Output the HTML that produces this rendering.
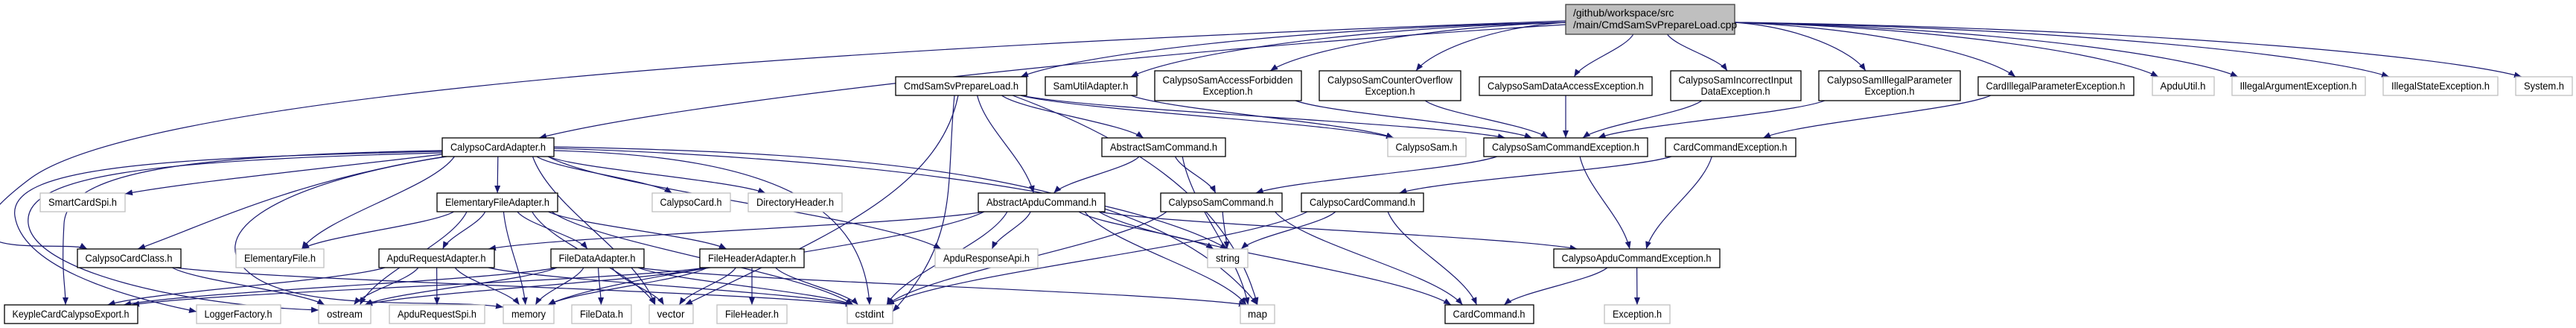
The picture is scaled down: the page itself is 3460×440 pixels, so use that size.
<!DOCTYPE html>
<html><head><meta charset="utf-8"><style>
html,body{margin:0;padding:0;background:#fff;}
svg{display:block;}
text{font-family:"Liberation Sans",sans-serif;font-size:14px;fill:#000;}
.b{fill:#fff;stroke:#000;stroke-width:1.3;}
.g{fill:#fff;stroke:#bfbfbf;stroke-width:1.3;}
.m{fill:#bfbfbf;stroke:#404040;stroke-width:1.3;}
</style></head><body>
<svg id="s" width="3460" height="440" xmlns="http://www.w3.org/2000/svg">
<defs><marker id="ar" viewBox="0 0 10 8" refX="10" refY="4" markerWidth="10" markerHeight="8" markerUnits="userSpaceOnUse" orient="auto"><path d="M0,0L10,4L0,8z" fill="#191970"/></marker></defs>
<g id="edges" fill="none" stroke="#191970" stroke-width="1.2"></g>
<g>
<rect class="m" x="2103" y="6" width="227" height="40"/>
<text x="2113" y="22">/github/workspace/src</text>
<text x="2113" y="38">/main/CmdSamSvPrepareLoad.cpp</text>

<rect class="b" x="1203" y="103" width="176" height="25"/><text x="1291" y="120" text-anchor="middle" textLength="154" lengthAdjust="spacingAndGlyphs">CmdSamSvPrepareLoad.h</text>
<rect class="b" x="1404" y="103" width="123" height="25"/><text x="1465" y="120" text-anchor="middle" textLength="101" lengthAdjust="spacingAndGlyphs">SamUtilAdapter.h</text>
<rect class="b" x="1551" y="95" width="197" height="40"/><text x="1649" y="112" text-anchor="middle" textLength="175" lengthAdjust="spacingAndGlyphs">CalypsoSamAccessForbidden</text><text x="1649" y="127" text-anchor="middle" textLength="67" lengthAdjust="spacingAndGlyphs">Exception.h</text>
<rect class="b" x="1772" y="95" width="190" height="40"/><text x="1867" y="112" text-anchor="middle" textLength="168" lengthAdjust="spacingAndGlyphs">CalypsoSamCounterOverflow</text><text x="1867" y="127" text-anchor="middle" textLength="67" lengthAdjust="spacingAndGlyphs">Exception.h</text>
<rect class="b" x="1987" y="103" width="232" height="25"/><text x="2103" y="120" text-anchor="middle" textLength="210" lengthAdjust="spacingAndGlyphs">CalypsoSamDataAccessException.h</text>
<rect class="b" x="2244" y="95" width="175" height="40"/><text x="2331" y="112" text-anchor="middle" textLength="153" lengthAdjust="spacingAndGlyphs">CalypsoSamIncorrectInput</text><text x="2331" y="127" text-anchor="middle" textLength="93" lengthAdjust="spacingAndGlyphs">DataException.h</text>
<rect class="b" x="2443" y="95" width="190" height="40"/><text x="2538" y="112" text-anchor="middle" textLength="168" lengthAdjust="spacingAndGlyphs">CalypsoSamIllegalParameter</text><text x="2538" y="127" text-anchor="middle" textLength="67" lengthAdjust="spacingAndGlyphs">Exception.h</text>
<rect class="b" x="2657" y="103" width="209" height="25"/><text x="2761" y="120" text-anchor="middle" textLength="187" lengthAdjust="spacingAndGlyphs">CardIllegalParameterException.h</text>
<rect class="g" x="2891" y="103" width="83" height="25"/><text x="2932" y="120" text-anchor="middle" textLength="61" lengthAdjust="spacingAndGlyphs">ApduUtil.h</text>
<rect class="g" x="2998" y="103" width="179" height="25"/><text x="3087" y="120" text-anchor="middle" textLength="157" lengthAdjust="spacingAndGlyphs">IllegalArgumentException.h</text>
<rect class="g" x="3201" y="103" width="154" height="25"/><text x="3278" y="120" text-anchor="middle" textLength="132" lengthAdjust="spacingAndGlyphs">IllegalStateException.h</text>
<rect class="g" x="3379" y="103" width="76" height="25"/><text x="3417" y="120" text-anchor="middle" textLength="54" lengthAdjust="spacingAndGlyphs">System.h</text>

<rect class="b" x="594" y="185" width="150" height="25"/><text x="669" y="202" text-anchor="middle" textLength="128" lengthAdjust="spacingAndGlyphs">CalypsoCardAdapter.h</text>
<rect class="b" x="1480" y="185" width="166" height="25"/><text x="1563" y="202" text-anchor="middle" textLength="144" lengthAdjust="spacingAndGlyphs">AbstractSamCommand.h</text>
<rect class="g" x="1864" y="185" width="105" height="25"/><text x="1916" y="202" text-anchor="middle" textLength="83" lengthAdjust="spacingAndGlyphs">CalypsoSam.h</text>
<rect class="b" x="1993" y="185" width="220" height="25"/><text x="2103" y="202" text-anchor="middle" textLength="198" lengthAdjust="spacingAndGlyphs">CalypsoSamCommandException.h</text>
<rect class="b" x="2237" y="185" width="175" height="25"/><text x="2324" y="202" text-anchor="middle" textLength="153" lengthAdjust="spacingAndGlyphs">CardCommandException.h</text>

<rect class="g" x="54" y="259" width="114" height="25"/><text x="111" y="276" text-anchor="middle" textLength="92" lengthAdjust="spacingAndGlyphs">SmartCardSpi.h</text>
<rect class="b" x="587" y="259" width="162" height="25"/><text x="668" y="276" text-anchor="middle" textLength="140" lengthAdjust="spacingAndGlyphs">ElementaryFileAdapter.h</text>
<rect class="g" x="876" y="259" width="105" height="25"/><text x="928" y="276" text-anchor="middle" textLength="83" lengthAdjust="spacingAndGlyphs">CalypsoCard.h</text>
<rect class="g" x="1005" y="259" width="126" height="25"/><text x="1068" y="276" text-anchor="middle" textLength="104" lengthAdjust="spacingAndGlyphs">DirectoryHeader.h</text>
<rect class="b" x="1314" y="259" width="170" height="25"/><text x="1399" y="276" text-anchor="middle" textLength="148" lengthAdjust="spacingAndGlyphs">AbstractApduCommand.h</text>
<rect class="b" x="1559" y="259" width="163" height="25"/><text x="1640" y="276" text-anchor="middle" textLength="141" lengthAdjust="spacingAndGlyphs">CalypsoSamCommand.h</text>
<rect class="b" x="1748" y="259" width="164" height="25"/><text x="1830" y="276" text-anchor="middle" textLength="142" lengthAdjust="spacingAndGlyphs">CalypsoCardCommand.h</text>

<rect class="b" x="104" y="334" width="139" height="25"/><text x="173" y="351" text-anchor="middle" textLength="117" lengthAdjust="spacingAndGlyphs">CalypsoCardClass.h</text>
<rect class="g" x="317" y="334" width="118" height="25"/><text x="376" y="351" text-anchor="middle" textLength="96" lengthAdjust="spacingAndGlyphs">ElementaryFile.h</text>
<rect class="b" x="509" y="334" width="155" height="25"/><text x="586" y="351" text-anchor="middle" textLength="133" lengthAdjust="spacingAndGlyphs">ApduRequestAdapter.h</text>
<rect class="b" x="740" y="334" width="125" height="25"/><text x="802" y="351" text-anchor="middle" textLength="103" lengthAdjust="spacingAndGlyphs">FileDataAdapter.h</text>
<rect class="b" x="940" y="334" width="140" height="25"/><text x="1010" y="351" text-anchor="middle" textLength="118" lengthAdjust="spacingAndGlyphs">FileHeaderAdapter.h</text>
<rect class="g" x="1256" y="334" width="138" height="25"/><text x="1325" y="351" text-anchor="middle" textLength="116" lengthAdjust="spacingAndGlyphs">ApduResponseApi.h</text>
<rect class="g" x="1622" y="334" width="54" height="25"/><text x="1649" y="351" text-anchor="middle" textLength="32" lengthAdjust="spacingAndGlyphs">string</text>
<rect class="b" x="2087" y="334" width="223" height="25"/><text x="2198" y="351" text-anchor="middle" textLength="201" lengthAdjust="spacingAndGlyphs">CalypsoApduCommandException.h</text>

<rect class="b" x="6" y="409" width="179" height="25"/><text x="95" y="426" text-anchor="middle" textLength="157" lengthAdjust="spacingAndGlyphs">KeypleCardCalypsoExport.h</text>
<rect class="g" x="264" y="409" width="113" height="25"/><text x="320" y="426" text-anchor="middle" textLength="91" lengthAdjust="spacingAndGlyphs">LoggerFactory.h</text>
<rect class="g" x="428" y="409" width="70" height="25"/><text x="463" y="426" text-anchor="middle" textLength="48" lengthAdjust="spacingAndGlyphs">ostream</text>
<rect class="g" x="523" y="409" width="128" height="25"/><text x="587" y="426" text-anchor="middle" textLength="106" lengthAdjust="spacingAndGlyphs">ApduRequestSpi.h</text>
<rect class="g" x="676" y="409" width="68" height="25"/><text x="710" y="426" text-anchor="middle" textLength="46" lengthAdjust="spacingAndGlyphs">memory</text>
<rect class="g" x="768" y="409" width="80" height="25"/><text x="808" y="426" text-anchor="middle" textLength="58" lengthAdjust="spacingAndGlyphs">FileData.h</text>
<rect class="g" x="872" y="409" width="59" height="25"/><text x="901" y="426" text-anchor="middle" textLength="37" lengthAdjust="spacingAndGlyphs">vector</text>
<rect class="g" x="963" y="409" width="94" height="25"/><text x="1010" y="426" text-anchor="middle" textLength="72" lengthAdjust="spacingAndGlyphs">FileHeader.h</text>
<rect class="g" x="1138" y="409" width="61" height="25"/><text x="1168" y="426" text-anchor="middle" textLength="39" lengthAdjust="spacingAndGlyphs">cstdint</text>
<rect class="g" x="1666" y="409" width="46" height="25"/><text x="1689" y="426" text-anchor="middle" textLength="26" lengthAdjust="spacingAndGlyphs">map</text>
<rect class="b" x="1941" y="409" width="119" height="25"/><text x="2000" y="426" text-anchor="middle" textLength="97" lengthAdjust="spacingAndGlyphs">CardCommand.h</text>
<rect class="g" x="2155" y="409" width="88" height="25"/><text x="2199" y="426" text-anchor="middle" textLength="66" lengthAdjust="spacingAndGlyphs">Exception.h</text>
</g>
</svg>
<script>
var N={main:[2103,2330,6,46],CMD:[1203,1379,103,128],SUA:[1404,1527,103,128],AF:[1551,1748,95,135],CO:[1772,1962,95,135],DA:[1987,2219,103,128],II:[2244,2419,95,135],IP:[2443,2633,95,135],CIP:[2657,2866,103,128],AU:[2891,2974,103,128],IA:[2998,3177,103,128],IS:[3201,3355,103,128],SYS:[3379,3455,103,128],
CCA:[594,744,185,210],ASC:[1480,1646,185,210],CS:[1864,1969,185,210],CSCE:[1993,2213,185,210],CCE:[2237,2412,185,210],
SCS:[54,168,259,284],EFA:[587,749,259,284],CC:[876,981,259,284],DH:[1005,1131,259,284],AAC:[1314,1484,259,284],CSC:[1559,1722,259,284],CCC:[1748,1912,259,284],
CCL:[104,243,334,359],EF:[317,435,334,359],ARA:[509,664,334,359],FDA:[740,865,334,359],FHA:[940,1080,334,359],ARAPI:[1256,1394,334,359],STR:[1622,1676,334,359],CACE:[2087,2310,334,359],
KCE:[6,185,409,434],LF:[264,377,409,434],OS:[428,498,409,434],ARS:[523,651,409,434],MEM:[676,744,409,434],FD:[768,848,409,434],VEC:[872,931,409,434],FH:[963,1057,409,434],CST:[1138,1199,409,434],MAP:[1666,1712,409,434],CMDH:[1941,2060,409,434],EXC:[2155,2243,409,434]};
var O={
"main CCL":"M2103,28 C1200,60 200,120 40,240 S 90,320 117,334",
"main CCA":"M2103,33 C1500,70 900,140 724,185",
"CCA KCE":"M594,202 C250,208 90,230 86,300 S 88,380 88,409",
"CCA LF":"M594,203 C200,212 10,225 20,290 S 150,395 264,418",
"CCA OS":"M594,205 C200,215 30,235 38,300 S 250,410 428,416",
"CCA CCL":"M600,210 C400,240 280,300 185,334",
"CCA SCS":"M594,207 C400,230 250,245 168,260",
"CCA MEM":"M598,210 C350,250 270,320 340,370 S 600,400 676,412",
"CCA STR":"M744,199 C1100,210 1500,250 1649,334",
"CCA MAP":"M744,197 C1150,205 1550,230 1689,409",
"CCA CST":"M744,202 C1050,210 1160,280 1168,409",
"CMD CST":"M1282,128 C1270,250 1290,320 1199,418",
"CMD VEC":"M1287,128 C1260,260 1100,320 920,409",
"CMD MAP":"M1360,128 C1500,180 1650,260 1689,409"
};
var E="main CCA,main CCL,main CMD,main SUA,main AF,main CO,main DA,main II,main IP,main CIP,main AU,main IA,main IS,main SYS,CMD ASC,CMD AAC,CMD CS,CMD CSCE,CMD VEC,CMD CST,CMD MAP,SUA CS,AF CSCE,CO CSCE,DA CSCE,II CSCE,IP CSCE,CIP CCE,ASC AAC,ASC CSC,ASC MAP,CSCE CSC,CSCE CACE,CCE CCC,CCE CACE,CCC STR,CCC CST,CCC CMDH,CSC STR,CSC CST,CSC CMDH,AAC ARA,AAC ARAPI,AAC STR,AAC MAP,AAC CST,AAC CACE,AAC CMDH,AAC MEM,CACE CMDH,CACE EXC,CCA SCS,CCA EFA,CCA CC,CCA DH,CCA CCL,CCA KCE,CCA LF,CCA OS,CCA EF,CCA MEM,CCA VEC,CCA CST,CCA STR,CCA MAP,CCA ARAPI,EFA EF,EFA OS,EFA MEM,EFA FDA,EFA FHA,EFA ARA,EFA VEC,EFA CST,CCL OS,CCL CST,ARA KCE,ARA OS,ARA ARS,ARA MEM,ARA CST,FDA OS,FDA MEM,FDA FD,FDA VEC,FDA CST,FDA MAP,FDA KCE,FHA VEC,FHA FH,FHA CST,FHA OS,FHA MEM,FHA KCE".split(",");
function cl(v,a,b){return Math.max(a,Math.min(b,v));}
var g=document.getElementById("edges"),h="";
E.forEach(function(e){
if(O[e]){h+='<path d="'+O[e]+'" marker-end="url(#ar)"/>';return;}
var p=e.split(" "),s=N[p[0]],t=N[p[1]];
var sc=(s[0]+s[1])/2,tc=(t[0]+t[1])/2,gap=tc-sc,v=t[2]-s[3],sx,sy,tx,ty;
var side=(Math.abs(gap)>4*v&&p[0]=="main");
if(side){sx=gap<0?s[0]:s[1];sy=(s[2]+s[3])/2+4;}
else{sx=cl(sc+gap*0.2,s[0]+8,s[1]-8);sy=s[3];}
tx=cl(tc-gap*0.1,t[0]+8,t[1]-8);ty=t[2];
var dy=ty-sy,dx=tx-sx,c1x,c1y,c2x,c2y;
if(side){c1x=sx+dx*0.5;c1y=sy+dy*0.1;c2x=tx-dx*0.1;c2y=ty-dy*0.4;}
else{c1x=sx+dx*0.15;c1y=sy+dy*0.35;c2x=tx-dx*0.15;c2y=ty-dy*0.35;}
h+='<path d="M'+sx+','+sy+'C'+c1x+','+c1y+' '+c2x+','+c2y+' '+tx+','+ty+'" marker-end="url(#ar)"/>';});
g.innerHTML=h;
</script>
</body></html>
